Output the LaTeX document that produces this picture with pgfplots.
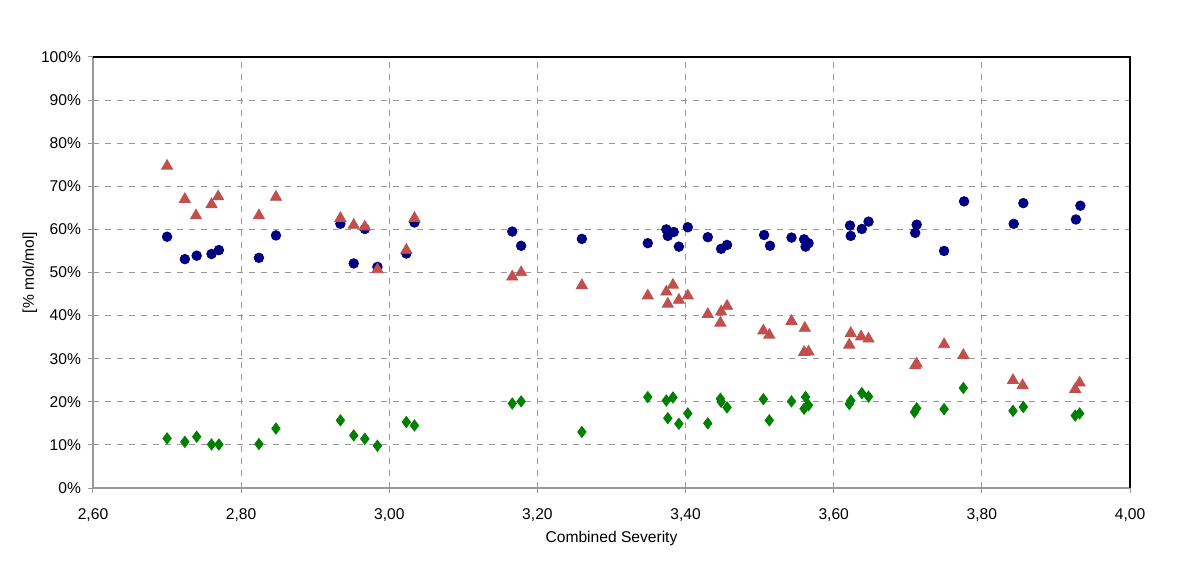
\documentclass[border=0pt]{standalone}
\usepackage{fontspec}
\setmainfont{Liberation Sans}
\usepackage{pgfplots}
\pgfplotsset{compat=1.18}
\definecolor{sernavy}{HTML}{000080}
\definecolor{serred}{HTML}{C0504D}
\definecolor{sergreen}{HTML}{008000}

\begin{document}
\begin{tikzpicture}
\useasboundingbox (-46.5pt,-45.5pt) rectangle (553.5pt,244pt);
\begin{axis}[
  scale only axis,
  width=518.5pt, height=215.5pt,
  xmin=2.6, xmax=4.0, ymin=0, ymax=100,
  xtick={2.6,2.8,...,4.01},
  ytick={0,10,...,100},
  xticklabel style={yshift=-4.5pt,/pgf/number format/.cd,fixed,fixed zerofill,precision=2,use comma},
  yticklabel={\pgfmathprintnumber{\tick}\%},
  /pgf/number format/assume math mode=true,
  tick label style={font=\fontsize{7.8}{9}\selectfont},
  label style={font=\fontsize{7.8}{9}\selectfont},
  xlabel={Combined Severity},
  ylabel={[\% mol/mol]},
  ylabel style={at={(axis description cs:-0.061,0.5)},anchor=center},
  xlabel style={yshift=2pt},
  grid=major,
  grid style={dashed,gray!80,line width=0.5pt},
  axis line style={gray!80,line width=0.7pt},
  tick align=outside,
  major tick length=2.5pt,
  tick style={gray!80,line width=0.5pt},
  xtick pos=bottom, ytick pos=left,
  clip=false,
]
\addplot[only marks, mark=*, mark size=2.4pt, color=sernavy] coordinates {
(2.700,58.3) (2.724,53.1) (2.740,53.9) (2.760,54.3) (2.770,55.2)
(2.824,53.4) (2.847,58.6) (2.934,61.3) (2.952,52.1) (2.967,60.1)
(2.984,51.3) (3.023,54.4) (3.034,61.6)
(3.166,59.5) (3.178,56.2) (3.260,57.8) (3.349,56.8) (3.374,60.0)
(3.376,58.5) (3.384,59.4) (3.391,56.0) (3.403,60.5) (3.430,58.2)
(3.448,55.5) (3.456,56.4) (3.506,58.7) (3.514,56.2) (3.543,58.1)
(3.560,57.7) (3.566,56.8) (3.562,56.0)
(3.622,60.9) (3.623,58.5) (3.638,60.1) (3.647,61.8) (3.712,61.1)
(3.710,59.2) (3.749,55.0) (3.776,66.5) (3.843,61.3) (3.856,66.1)
(3.927,62.3) (3.933,65.5)
};
\addplot[only marks, mark=triangle*, mark size=3.2pt, color=serred] coordinates {
(2.700,74.7) (2.724,67.0) (2.739,63.2) (2.760,65.8) (2.769,67.6)
(2.824,63.2) (2.847,67.5) (2.934,62.6) (2.952,61.0) (2.967,60.6)
(2.984,50.7) (3.023,55.2) (3.034,62.6)
(3.166,49.0) (3.178,50.0) (3.260,47.0) (3.349,44.6) (3.374,45.5)
(3.376,42.7) (3.383,47.1) (3.391,43.6) (3.403,44.6)
(3.430,40.3) (3.448,40.9) (3.447,38.3) (3.456,42.2) (3.505,36.5)
(3.513,35.5) (3.543,38.7) (3.561,37.1) (3.560,31.5) (3.566,31.6)
(3.623,35.9) (3.621,33.2) (3.637,35.1) (3.647,34.6) (3.710,28.4)
(3.712,28.8) (3.749,33.3) (3.775,30.8) (3.842,25.0) (3.855,23.8)
(3.926,22.9) (3.932,24.4)
};
\addplot[only marks, mark=diamond*, mark size=2.8pt, color=sergreen] coordinates {
(2.700,11.5) (2.724,10.7) (2.740,11.9) (2.760,10.1) (2.770,10.1)
(2.824,10.2) (2.847,13.8) (2.934,15.7) (2.952,12.2) (2.967,11.4)
(2.984,9.8) (3.023,15.3) (3.034,14.5)
(3.166,19.6) (3.178,20.1) (3.260,13.0) (3.349,21.1) (3.374,20.3)
(3.376,16.2) (3.383,21.0) (3.391,14.9) (3.403,17.3) (3.430,15.0)
(3.447,20.7) (3.448,20.0) (3.456,18.7) (3.505,20.6) (3.513,15.7)
(3.543,20.1) (3.562,21.1) (3.560,18.4) (3.566,19.2)
(3.621,19.5) (3.623,20.3) (3.638,22.0) (3.647,21.2) (3.709,17.6)
(3.712,18.5) (3.749,18.3) (3.775,23.2) (3.842,17.9) (3.856,18.8)
(3.926,16.8) (3.932,17.3)
};
\draw[black,line width=0.7pt] (rel axis cs:0,1) -- (rel axis cs:1,1) -- (rel axis cs:1,0);
\end{axis}
\end{tikzpicture}
\end{document}
